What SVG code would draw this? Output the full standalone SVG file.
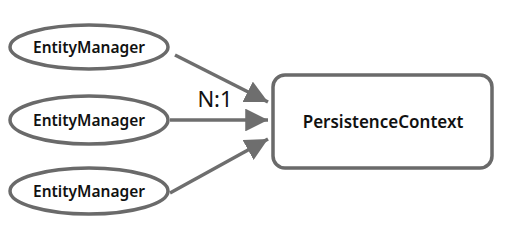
<svg xmlns="http://www.w3.org/2000/svg" width="507" height="251" viewBox="0 0 507 251">
<style>
.node{fill:#fff;stroke:#6a6a6a;stroke-width:3.5}
.lbl{font-family:"Noto Sans","Open Sans",sans-serif;font-weight:600;fill:#111;text-anchor:middle;dominant-baseline:central}
.conn{stroke:#6e6e6e;stroke-width:3.5;fill:none}
</style>
<defs>
<marker id="ah" viewBox="0 0 10 10" refX="10" refY="5" markerWidth="6.5" markerHeight="6.5" markerUnits="strokeWidth" orient="auto">
<path d="M0,0 L10,5 L0,10 z" fill="#6e6e6e"/>
</marker>
</defs>
<rect width="507" height="251" fill="#fff"/>
<g id="em1"><ellipse class="node" cx="89" cy="47" rx="79" ry="22"/><text class="lbl" x="89" y="47" font-size="15.5">EntityManager</text></g>
<g id="em2"><ellipse class="node" cx="89" cy="120" rx="79" ry="24"/><text class="lbl" x="89" y="120" font-size="15.5">EntityManager</text></g>
<g id="em3"><ellipse class="node" cx="89" cy="191" rx="79" ry="23"/><text class="lbl" x="89" y="191" font-size="15.5">EntityManager</text></g>
<g id="pc"><rect class="node" x="273" y="75" width="219" height="93" rx="12"/><text class="lbl" x="383" y="121" font-size="17">PersistenceContext</text></g>
<g id="connectors">
<line class="conn" x1="175" y1="55" x2="268" y2="102" marker-end="url(#ah)"/>
<line class="conn" x1="170" y1="120" x2="268" y2="120" marker-end="url(#ah)"/>
<line class="conn" x1="170" y1="193" x2="268" y2="139" marker-end="url(#ah)"/>
<text x="215" y="107" font-family="Noto Sans, Open Sans, sans-serif" font-size="22" fill="#111" text-anchor="middle">N:1</text>
</g>
</svg>
